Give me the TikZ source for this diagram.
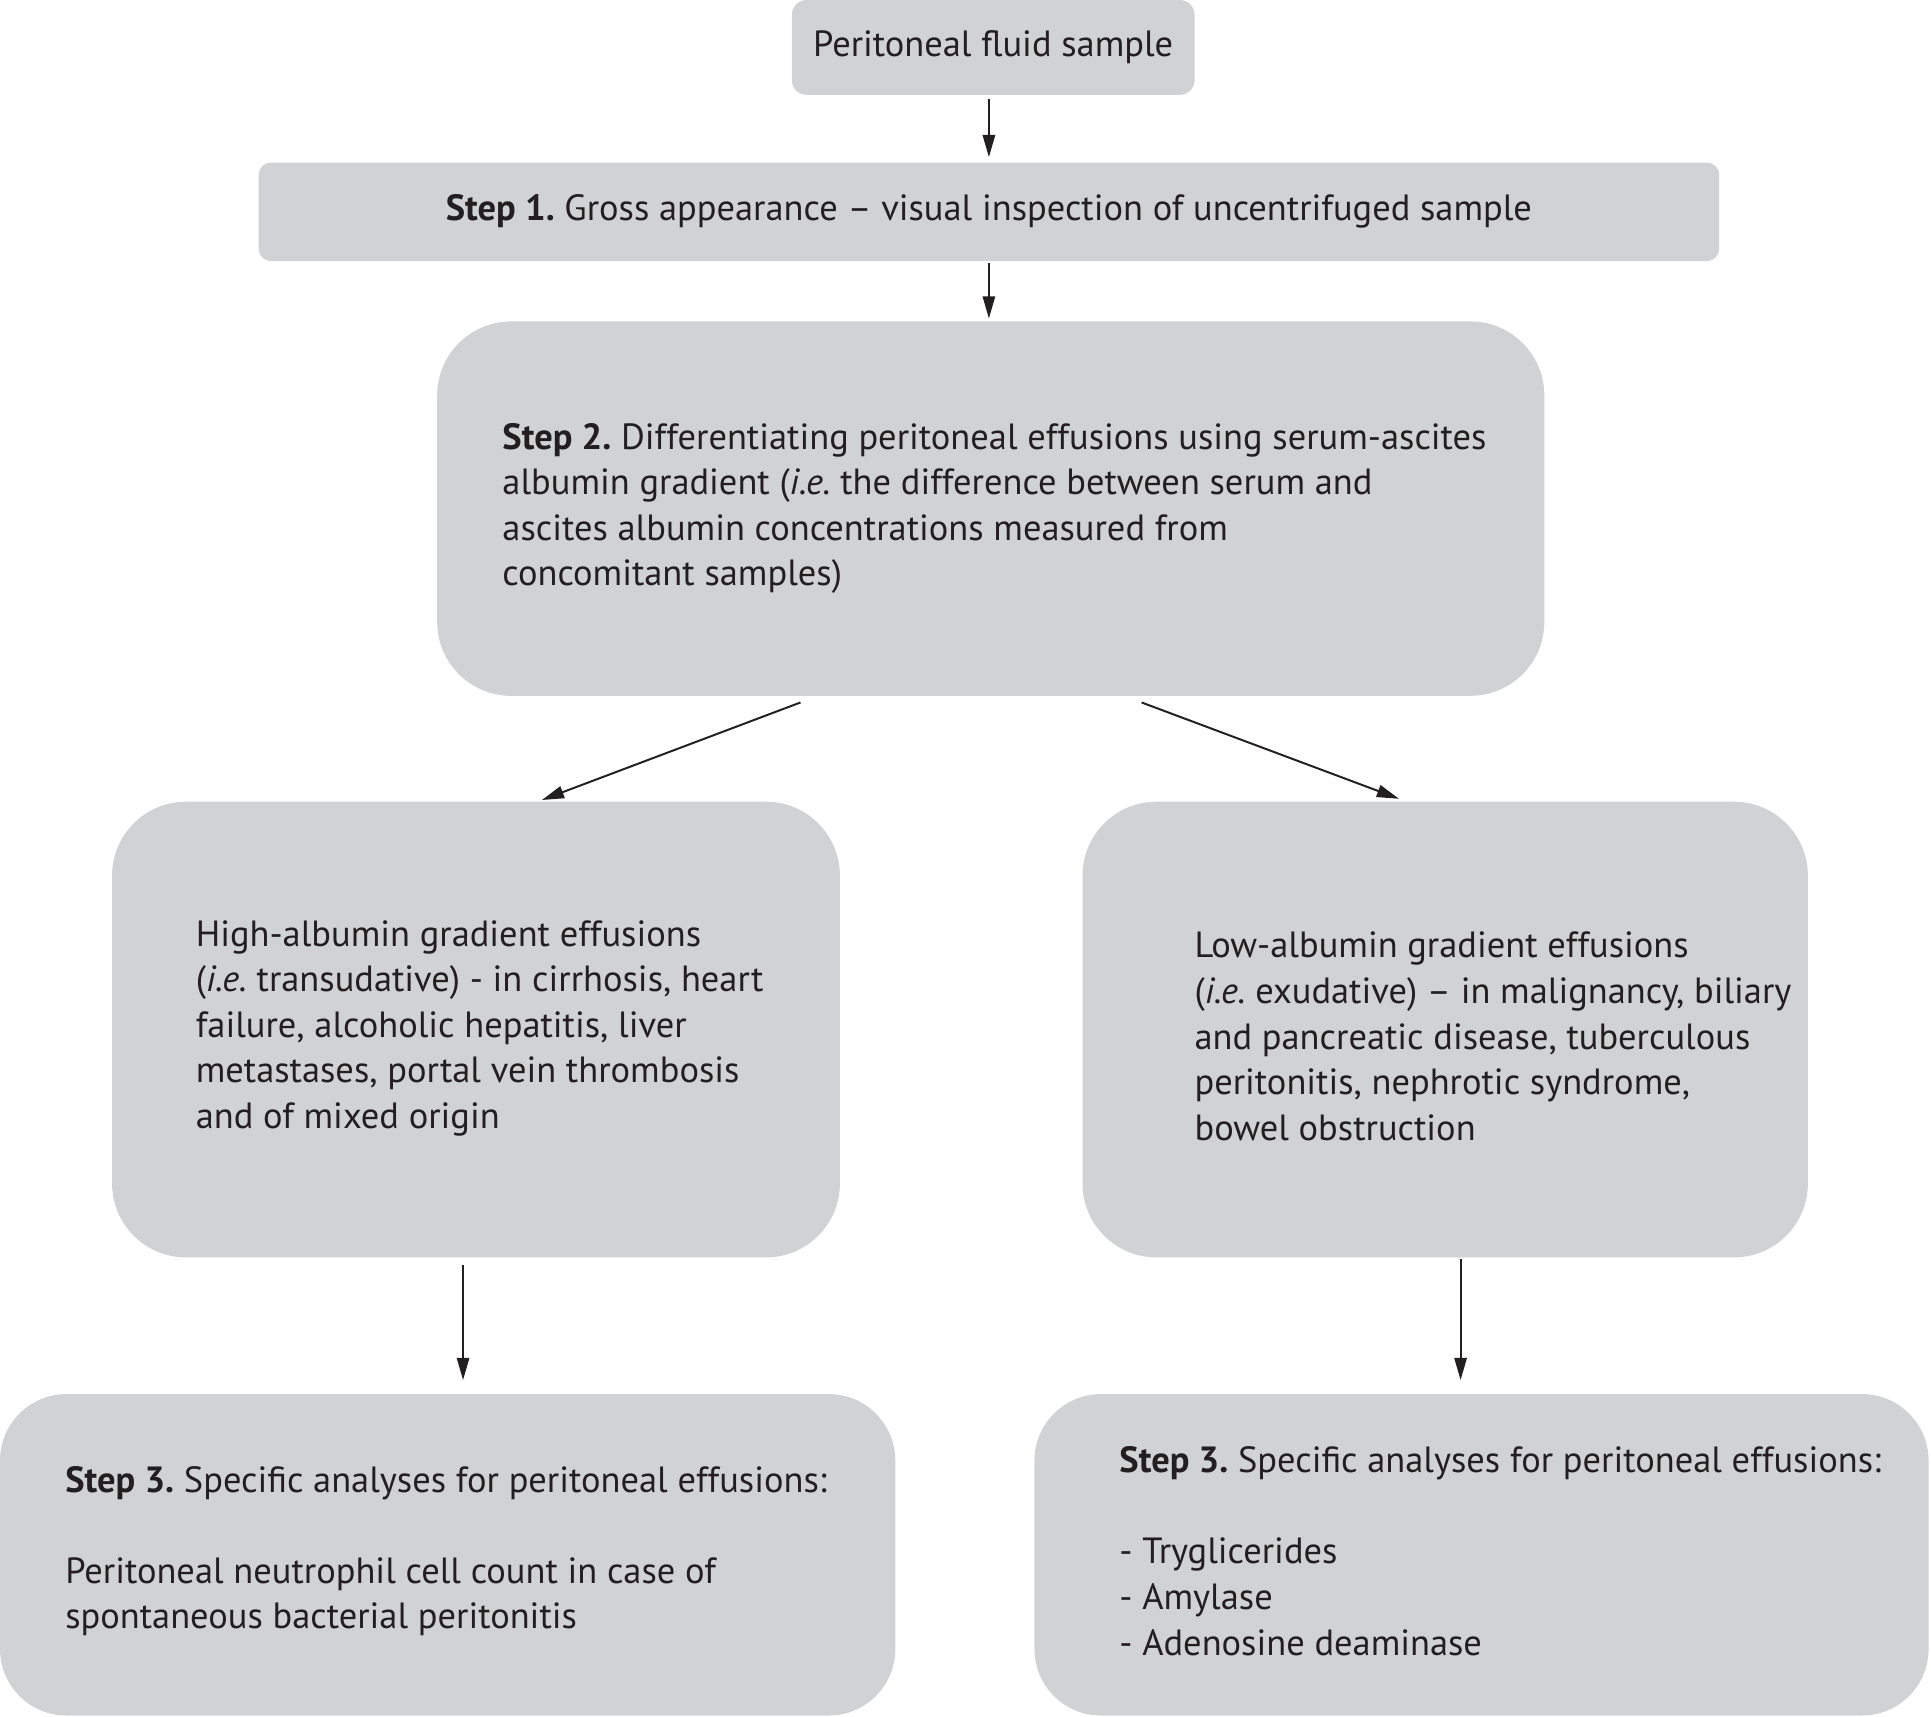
\documentclass[tikz,border=0pt]{standalone}
\usepackage{fontspec}
\setmainfont{PT Sans}
\usepackage{tikz}
\usetikzlibrary{positioning,arrows.meta}

\definecolor{boxgray}{RGB}{209,210,211}
\definecolor{ink}{RGB}{35,31,32}
\tikzset{
  box/.style={fill=boxgray, inner sep=0pt, text=ink,
    font=\fontsize{14.8}{18.5}\selectfont\frenchspacing},
  boxtext/.style={align=left, inner sep=0pt, text=ink, anchor=west,
    font=\fontsize{14.8}{18.5}\selectfont\frenchspacing},
  arr/.style={-{Triangle[length=9pt,width=5pt]}, line width=0.8pt, ink}
}

\begin{document}
\begin{tikzpicture}[x=0.5pt,y=-0.5pt]
  \useasboundingbox (0,0) rectangle (1568,1394.2);
  % boxes
  \node (sample) [box, rounded corners=6pt, minimum width=163.5pt, minimum height=38.5pt] at (806.5,38.5)
    {Peritoneal fluid sample};
  \node (step1) [box, rounded corners=5pt, minimum width=593pt, minimum height=40pt] at (803,172)
    {\textbf{Step 1.} Gross appearance -- visual inspection of uncentrifuged sample};
  \node (step2) [box, rounded corners=30pt, minimum width=449.5pt, minimum height=152pt] at (804.5,413) {};
  \node (high) [box, rounded corners=30pt, minimum width=295.5pt, minimum height=185pt] at (386.5,836) {};
  \node (low) [box, rounded corners=30pt, minimum width=294.5pt, minimum height=185pt] at (1173.5,836) {};
  \node (step3l) [box, rounded corners=27pt, minimum width=363.5pt, minimum height=130.5pt] at (363.5,1262.5) {};
  \node (step3r) [box, rounded corners=27pt, minimum width=363pt, minimum height=130.5pt] at (1203,1262.5) {};

  % texts in the big boxes
  \node (step2text) [boxtext] at ([xshift=26.5pt]step2.west)
    {\textbf{Step 2.} Differentiating peritoneal effusions using serum-ascites\\
     albumin gradient (\textit{i.e.} the difference between serum and\\
     ascites albumin concentrations measured from\\
     concomitant samples)};
  \node (hightext) [boxtext] at ([xshift=34pt,yshift=0.5pt]high.west)
    {High-albumin gradient effusions\\
     (\textit{i.e.} transudative) - in cirrhosis, heart\\
     failure, alcoholic hepatitis, liver\\
     metastases, portal vein thrombosis\\
     and of mixed origin};
  \node (lowtext) [boxtext] at ([xshift=45.5pt,yshift=-2.75pt]low.west)
    {Low-albumin gradient effusions\\
     (\textit{i.e.} exudative) -- in malignancy, biliary\\
     and pancreatic disease, tuberculous\\
     peritonitis, nephrotic syndrome,\\
     bowel obstruction};
  \node (step3ltext) [boxtext] at ([xshift=26.5pt,yshift=1.5pt]step3l.west)
    {\textbf{Step 3.} Specific analyses for peritoneal effusions:\\[18.5pt]
     Peritoneal neutrophil cell count in case of\\
     spontaneous bacterial peritonitis};
  \node (step3rtext) [boxtext] at ([xshift=34.5pt,yshift=1.5pt]step3r.west)
    {\textbf{Step 3.} Specific analyses for peritoneal effusions:\\[18.5pt]
     - Tryglicerides\\
     - Amylase\\
     - Adenosine deaminase};

  \path[arr]
  ([xshift=-1.75pt,yshift=-1.5pt]sample.south) edge ([yshift=2pt]step1.north)
  ([yshift=-0.5pt]step1.south) edge ([xshift=-0.75pt,yshift=1pt]step2.north)
  ([xshift=-77.25pt,yshift=-2.5pt]step2.south) edge ([xshift=26.75pt,yshift=0.5pt]high.north)
  ([xshift=61.25pt,yshift=-2.5pt]step2.south) edge ([xshift=-18.75pt,yshift=1pt]low.north)
  ([xshift=-5.25pt,yshift=-3pt]high.south) edge ([xshift=6.25pt,yshift=5.5pt]step3l.north)
  ([xshift=6.25pt,yshift=-0.5pt]low.south) edge ([xshift=-8.5pt,yshift=5.5pt]step3r.north)
;
\end{tikzpicture}
\end{document}
